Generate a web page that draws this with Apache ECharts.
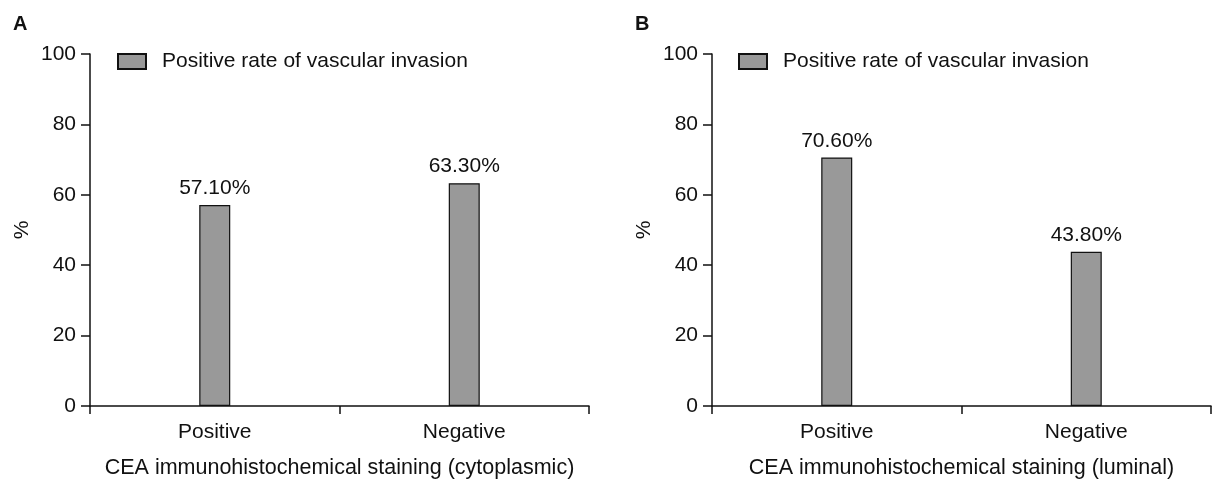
<!DOCTYPE html>
<html>
<head>
<meta charset="utf-8">
<script src="https://cdn.jsdelivr.net/npm/echarts@6/dist/echarts.min.js"></script>
<style>html,body{margin:0;padding:0;background:#fff}#c{width:1212px;height:480px}</style>
</head>
<body>
<div id="c"></div>
<script>
const categories = ['Positive', 'Negative'];
const valuesA = [57.1, 63.3];
const valuesB = [70.6, 43.8];
const yTicks = [0, 20, 40, 60, 80, 100];
const seriesName = 'Positive rate of vascular invasion';
const xTitleA = 'CEA immunohistochemical staining (cytoplasmic)';
const xTitleB = 'CEA immunohistochemical staining (luminal)';
const yTitle = '%';
const panelLabels = ['A', 'B'];

const FONT = '"Liberation Sans", Arial, sans-serif';
const FS = 21;
const INK = '#111';

const chart = echarts.init(document.getElementById('c'), null, {renderer: 'canvas'});

function xAxis(idx, title) {
  return {
    type: 'category', gridIndex: idx, data: categories,
    boundaryGap: true,
    axisLine: {show: true, lineStyle: {color: INK, width: 1.5}},
    axisTick: {show: true, length: 8, alignWithLabel: false, lineStyle: {color: INK, width: 1.5}},
    axisLabel: {color: INK, fontSize: FS, fontFamily: FONT, margin: 16},
    name: title, nameLocation: 'middle', nameGap: 51,
    nameTextStyle: {color: INK, fontSize: 21.5, fontFamily: FONT}
  };
}
function yAxis(idx) {
  return {
    type: 'value', gridIndex: idx, min: yTicks[0], max: yTicks[yTicks.length - 1],
    interval: yTicks[1] - yTicks[0],
    axisLine: {show: true, lineStyle: {color: INK, width: 1.5}},
    axisTick: {show: true, length: 9, lineStyle: {color: INK, width: 1.5}},
    splitLine: {show: false},
    axisLabel: {color: INK, fontSize: FS, fontFamily: FONT, margin: 14},
    name: yTitle, nameLocation: 'middle', nameGap: 57, nameRotate: 90,
    nameTextStyle: {color: INK, fontSize: FS, fontFamily: FONT}
  };
}
function series(idx, vals) {
  return {
    type: 'bar', name: seriesName, xAxisIndex: idx, yAxisIndex: idx,
    data: vals, barWidth: 31,
    itemStyle: {color: '#999999', borderColor: '#111', borderWidth: 1.2},
    label: {show: true, position: 'top', distance: 6, color: INK, fontSize: FS, fontFamily: FONT,
      formatter: p => p.value.toFixed(2) + '%'}
  };
}
function legend(left) {
  return {
    show: true, left: left, top: 51, padding: 0, itemWidth: 28, itemHeight: 15,
    icon: 'rect',
    data: [seriesName], selectedMode: false,
    textStyle: {color: INK, fontSize: FS, fontFamily: FONT, padding: [0, 0, 0, 11]}
  };
}

chart.setOption({
  animation: false,
  backgroundColor: '#fff',
  title: [
    {text: panelLabels[0], left: 8, top: 9, textStyle: {fontSize: 20, fontWeight: 'bold', color: INK, fontFamily: FONT}},
    {text: panelLabels[1], left: 630, top: 9, textStyle: {fontSize: 20, fontWeight: 'bold', color: INK, fontFamily: FONT}}
  ],
  legend: [legend(117), legend(738)],
  grid: [
    {left: 90, right: 623, top: 54, bottom: 74, containLabel: false, outerBoundsMode: 'none'},
    {left: 712, right: 1, top: 54, bottom: 74, containLabel: false, outerBoundsMode: 'none'}
  ],
  xAxis: [xAxis(0, xTitleA), xAxis(1, xTitleB)],
  yAxis: [yAxis(0), yAxis(1)],
  series: [series(0, valuesA), series(1, valuesB)]
});
</script>
</body>
</html>
